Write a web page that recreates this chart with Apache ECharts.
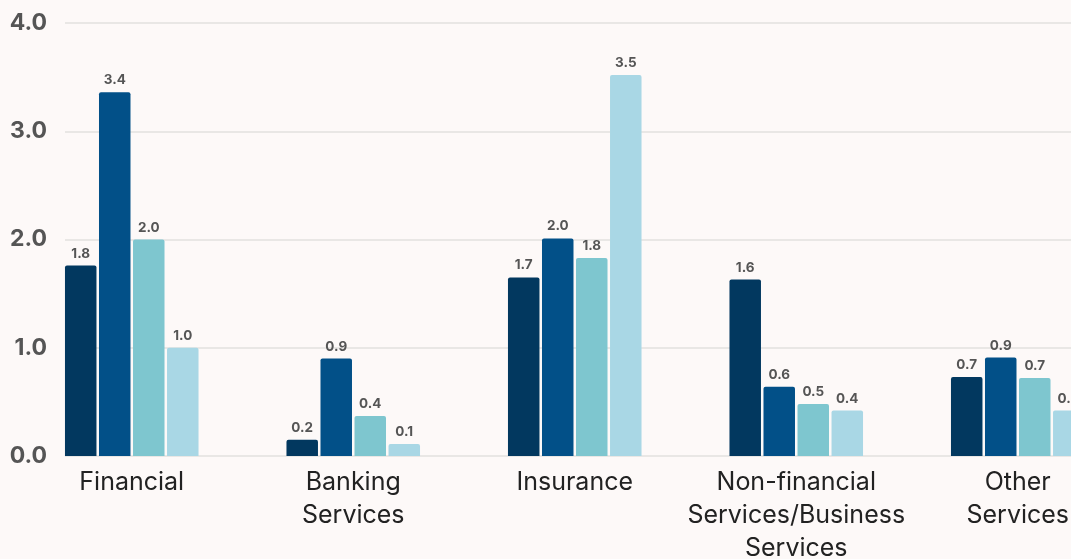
<!DOCTYPE html>
<html>
<head>
<meta charset="utf-8">
<style>
  html, body { margin: 0; padding: 0; background: #fdf9f8; }
  #chart { width: 1071px; height: 559px; }
</style>
<script src="https://cdn.jsdelivr.net/npm/echarts@6/dist/echarts.min.js"></script>
</head>
<body>
<div id="chart"></div>
<script>
// categories and values
const categories = ['Financial', 'Banking\nServices', 'Insurance', 'Non-financial\nServices/Business\nServices', 'Other\nServices'];
const series1 = [1.76, 0.15, 1.65, 1.63, 0.73];
const series2 = [3.36, 0.9, 2.01, 0.64, 0.91];
const series3 = [2.0, 0.37, 1.83, 0.48, 0.72];
const series4 = [1.0, 0.11, 3.52, 0.42, 0.42];
const yTicks = [0, 1, 2, 3, 4];

const colors = ['#02385f', '#025088', '#7ec6cf', '#a9d7e5'];

const chart = echarts.init(document.getElementById('chart'));

function barSeries(data, i) {
  return {
    type: 'bar',
    xAxisIndex: 0,
    yAxisIndex: 0,
    data: data,
    barWidth: 31.5,
    barGap: '8%',
    itemStyle: { color: colors[i], borderRadius: [2, 2, 0, 0] },
    label: {
      show: true,
      position: 'top',
      distance: 5,
      color: '#555',
      fontFamily: 'Inter',
      fontWeight: 'bold',
      fontSize: 13.5,
      formatter: p => (Math.round(p.value * 10) / 10).toFixed(1)
    }
  };
}

chart.setOption({
  backgroundColor: '#fdf9f8',
  animation: false,
  grid: [
    // bars (runs past the right edge, like the cropped original)
    { left: 21, right: -57.5, top: 23, bottom: 103, outerBoundsMode: 'none' },
    // gridlines + y labels
    { left: 65, right: 0, top: 23, bottom: 103, outerBoundsMode: 'none' }
  ],
  xAxis: [
    {
      type: 'category',
      gridIndex: 0,
      data: categories,
      axisLine: { show: false },
      axisTick: { show: false },
      axisLabel: {
        interval: 0,
        color: '#222',
        fontFamily: 'Inter',
        fontSize: 25,
        lineHeight: 33,
        margin: 10
      }
    },
    { type: 'value', gridIndex: 1, show: false }
  ],
  yAxis: [
    {
      type: 'value', gridIndex: 0, min: yTicks[0], max: yTicks[yTicks.length - 1], interval: 1,
      axisLabel: { show: false }, splitLine: { show: false }, axisLine: { show: false }, axisTick: { show: false }
    },
    {
      type: 'value', gridIndex: 1, min: yTicks[0], max: yTicks[yTicks.length - 1], interval: 1,
      axisLine: { show: false },
      axisTick: { show: false },
      splitLine: { lineStyle: { color: '#e2e0df', width: 1.5 } },
      axisLabel: {
        color: '#555',
        fontFamily: 'Inter',
        fontWeight: 'bold',
        fontSize: 23,
        margin: 18,
        formatter: v => v.toFixed(1)
      }
    }
  ],
  series: [series1, series2, series3, series4].map(barSeries)
});
</script>
</body>
</html>
